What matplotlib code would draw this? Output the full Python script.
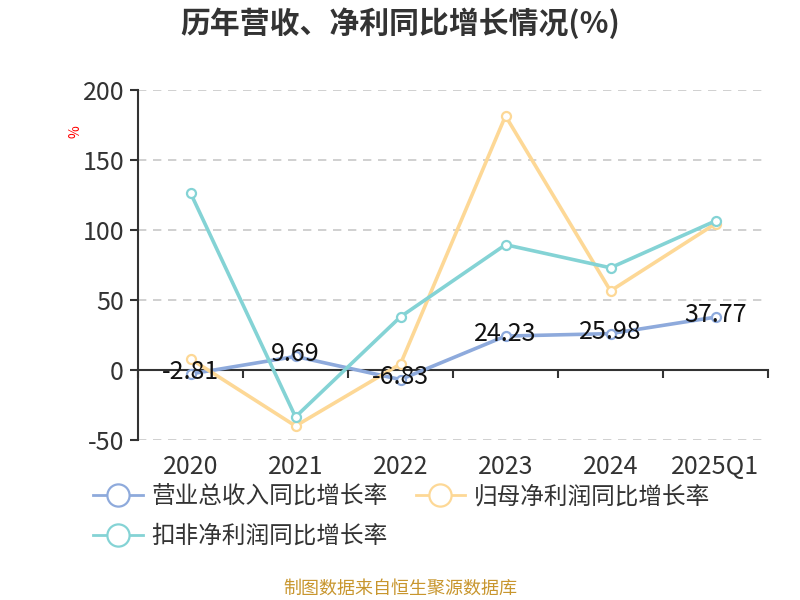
import matplotlib
matplotlib.use("Agg")
import matplotlib.pyplot as plt
import numpy as np

plt.rcParams['font.family'] = ['Noto Sans CJK SC', 'DejaVu Sans']

categories = ["2020", "2021", "2022", "2023", "2024", "2025Q1"]
revenue_growth = [-2.81, 9.69, -6.83, 24.23, 25.98, 37.77]
net_profit_growth = [8.0, -40.0, 4.3, 181.5, 56.5, 104.5]
deducted_profit_growth = [126.5, -33.5, 38.0, 89.5, 73.0, 106.5]
yticks = [-50, 0, 50, 100, 150, 200]

series_names = ["营业总收入同比增长率", "归母净利润同比增长率", "扣非净利润同比增长率"]
colors = ["#8eaadc", "#fdd896", "#84d3d5"]

fig = plt.figure(figsize=(8, 6), dpi=100)
ax = fig.add_axes([138/800, 1-440/600, 630/800, 350/600])

x = np.arange(len(categories))
for vals, c, name in zip([revenue_growth, net_profit_growth, deducted_profit_growth], colors, series_names):
    ax.plot(x, vals, color=c, lw=2.6, marker='o', markersize=6.5,
            markerfacecolor='white', markeredgecolor=c, markeredgewidth=1.6,
            label=name, zorder=3, solid_capstyle='round')

for xi, v in zip(x, revenue_growth):
    ax.text(xi, v + 1.5, f"{v:.2f}", ha='center', va='center', fontsize=18, color='#111111', zorder=5)

ax.set_xlim(-0.5, len(categories) - 0.5)
ax.set_ylim(-50, 200)
ax.set_yticks(yticks)
ax.set_yticklabels([str(t) for t in yticks])
for t in yticks:
    if t != 0:
        ax.axhline(t, color='#c8c8c8', lw=1.2, ls=(0, (5, 4)), zorder=1)

for s in ['top', 'right']:
    ax.spines[s].set_visible(False)
ax.spines['left'].set_color('#333333')
ax.spines['left'].set_linewidth(1.5)
ax.spines['bottom'].set_position(('data', 0))
ax.spines['bottom'].set_color('#333333')
ax.spines['bottom'].set_linewidth(1.5)
ax.set_xticks(np.arange(len(categories) + 1) - 0.5)
ax.set_xticklabels([])
ax.tick_params(axis='x', direction='out', length=6, width=1.5, color='#333333')
ax.tick_params(axis='y', direction='out', length=6, width=1.5, color='#333333',
               labelsize=18, labelcolor='#333333', pad=4)

sec = ax.secondary_xaxis('bottom')
sec.set_xticks(x)
sec.set_xticklabels(categories)
sec.tick_params(length=0, labelsize=18, labelcolor='#333333', pad=10)
sec.spines['bottom'].set_visible(False)

fig.text(76/800, 1-132/600, "%", color='red', fontsize=10, rotation=90, ha='center', va='center')

fig.text(0.5, 1-23/600, "历年营收、净利同比增长情况(%)", fontsize=21.5, fontweight='bold',
         color='#333333', ha='center', va='center')

order = [0, 2, 1]
handles = [plt.Line2D([], [], color=colors[i], lw=2, marker='o', markersize=16,
                      markerfacecolor='white', markeredgecolor=colors[i], markeredgewidth=1.6)
           for i in order]
fig.legend(handles, [series_names[i] for i in order], ncol=2, loc='upper left',
           bbox_to_anchor=(72/800, 1-464/600), frameon=False, fontsize=17,
           handlelength=2.1, handletextpad=0.35, columnspacing=1.2, labelspacing=0.7,
           labelcolor='#333333')

fig.text(0.5, 1-589/600, "制图数据来自恒生聚源数据库", fontsize=13, color='#c8962e',
         ha='center', va='center')

fig.savefig("out.png", dpi=100)
